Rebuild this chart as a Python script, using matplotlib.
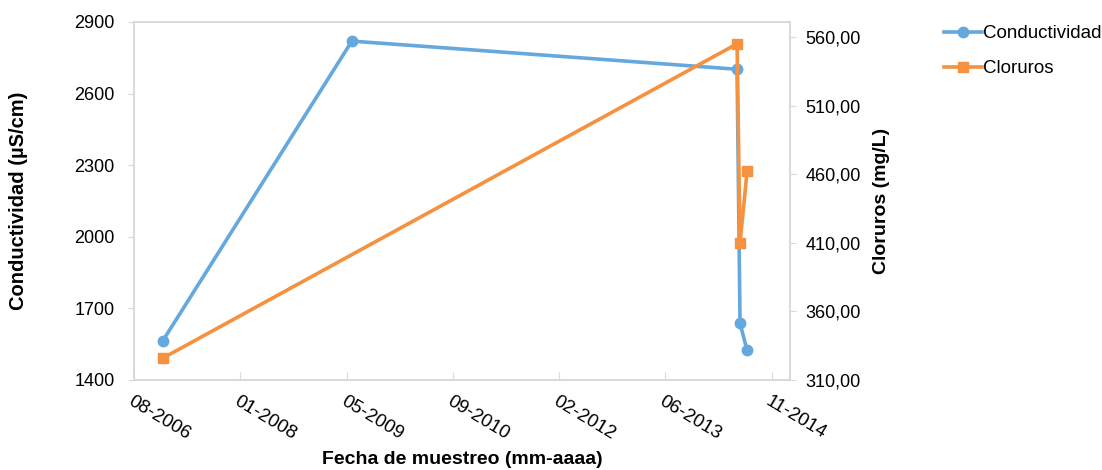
import matplotlib
matplotlib.use("Agg")
import matplotlib.pyplot as plt
import matplotlib.dates as mdates
from matplotlib.ticker import FuncFormatter
import datetime as dt

plt.rcParams['font.family'] = ['Liberation Sans', 'DejaVu Sans']

# data
fechas_cond = ["2007-01-03", "2009-06-10", "2014-05-27", "2014-06-10", "2014-07-13"]
conductividad = [1565, 2820, 2702, 1637, 1525]
fechas_cl = ["2007-01-03", "2014-05-27", "2014-06-10", "2014-07-13"]
cloruros = [326, 555, 410, 462]

x_cond = [dt.datetime.strptime(d, "%Y-%m-%d") for d in fechas_cond]
x_cl = [dt.datetime.strptime(d, "%Y-%m-%d") for d in fechas_cl]

azul = "#65A8DE"
naranja = "#F5913F"
gris = "#D9D9D9"

fig = plt.figure(figsize=(11.02, 4.70), dpi=100)
ax = fig.add_axes([134/1102, 1-380/470, (790-134)/1102, (380-22)/470])
ax2 = ax.twinx()

l1, = ax.plot(x_cond, conductividad, color=azul, lw=2.6, marker="o", ms=7.5,
              label="Conductividad", zorder=3)
l2, = ax2.plot(x_cl, cloruros, color=naranja, lw=2.6, marker="s", ms=7,
               label="Cloruros", zorder=4)

# x axis: excel date axis, ticks every 500 days
x0 = dt.datetime(2006, 8, 20)
x1 = x0 + dt.timedelta(days=3086)
ax.set_xlim(x0, x1)
ax.set_xticks([x0 + dt.timedelta(days=500*k) for k in range(7)])
ax.xaxis.set_major_formatter(mdates.DateFormatter("%m-%Y"))
for lab in ax.get_xticklabels():
    lab.set_rotation(-31)
    lab.set_ha("left")
    lab.set_va("top")
    lab.set_rotation_mode("anchor")

ax.set_ylim(1400, 2900)
ax.set_yticks(range(1400, 2901, 300))
ax2.set_ylim(310, 570.9)
ax2.set_yticks(range(310, 561, 50))
ax2.yaxis.set_major_formatter(FuncFormatter(lambda v, p: f"{v:.2f}".replace(".", ",")))

for a in (ax, ax2):
    for s in a.spines.values():
        s.set_color(gris)
        s.set_linewidth(1.2)
ax.tick_params(axis="x", direction="in", length=6, color=gris, labelsize=13.5, pad=9)
ax.tick_params(axis="y", direction="out", length=4, color=gris, labelsize=13, pad=10)
ax2.tick_params(axis="y", direction="out", length=4, color=gris, labelsize=13, pad=7)

ax.set_xlabel("Fecha de muestreo (mm-aaaa)", fontsize=14, fontweight="bold", va="center")
ax.xaxis.set_label_coords(0.5, (380-459)/358)
ax.set_ylabel("Conductividad (µS/cm)", fontsize=14.5, fontweight="bold", va="center")
ax.yaxis.set_label_coords((19-134)/656, 0.5)
ax2.set_ylabel("Cloruros (mg/L)", fontsize=14, fontweight="bold", va="center")
ax2.yaxis.set_label_coords((881-134)/656, 0.5)

fig.legend(handles=[l1, l2], loc="upper left", bbox_to_anchor=(944/1102, 1-25/470),
           frameon=False, fontsize=13.5, handlelength=2.0, handletextpad=0.1,
           labelspacing=0.95, borderaxespad=0, borderpad=0)

fig.savefig("out.png", dpi=100)
